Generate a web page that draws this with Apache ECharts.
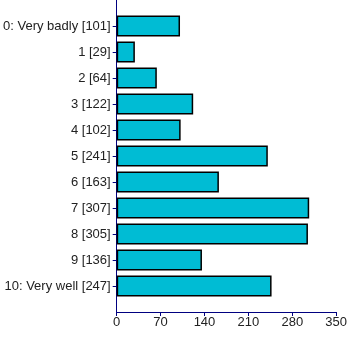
<!DOCTYPE html>
<html>
<head>
<meta charset="utf-8">
<script src="https://cdn.jsdelivr.net/npm/echarts@6/dist/echarts.min.js"></script>
<style>html,body{margin:0;padding:0;background:#fff}#c{width:350px;height:342px}</style>
</head>
<body>
<div id="c"></div>
<script>
var categories = ['0: Very badly [101]', '1 [29]', '2 [64]', '3 [122]', '4 [102]', '5 [241]', '6 [163]', '7 [307]', '8 [305]', '9 [136]', '10: Very well [247]'];
var values = [101, 29, 64, 122, 102, 241, 163, 307, 305, 136, 247];
var xTicks = [0, 70, 140, 210, 280, 350];

var axisCats = [''].concat(categories).concat(['']);
var axisVals = ['-'].concat(values).concat(['-']);

var chart = echarts.init(document.getElementById('c'), null, {renderer: 'canvas'});
chart.setOption({
  animation: false,
  backgroundColor: '#fff',
  grid: {left: 116, right: 13, top: 0, bottom: 30, containLabel: false},
  xAxis: {
    type: 'value',
    min: xTicks[0],
    max: xTicks[xTicks.length - 1],
    interval: xTicks[1] - xTicks[0],
    axisLine: {show: true, lineStyle: {color: '#000080', width: 1}},
    axisTick: {show: true, length: 4, lineStyle: {color: '#000080'}},
    splitLine: {show: false},
    axisLabel: {color: '#222', fontSize: 13, fontFamily: 'Liberation Sans, Arial', margin: 4}
  },
  yAxis: {
    type: 'category',
    inverse: true,
    boundaryGap: false,
    data: axisCats,
    axisLine: {show: true, lineStyle: {color: '#000080', width: 1}},
    axisTick: {show: true, length: 4, lineStyle: {color: '#000080'},
      interval: function (i) { return i > 0 && i < axisCats.length - 1; }},
    axisLabel: {color: '#222', fontSize: 13, fontFamily: 'Liberation Sans, Arial', margin: 6, interval: 0}
  },
  series: [{
    type: 'bar',
    data: axisVals,
    barWidth: 21,
    itemStyle: {color: '#00BCD4', borderColor: '#000', borderWidth: 1.5}
  }]
});
</script>
</body>
</html>
